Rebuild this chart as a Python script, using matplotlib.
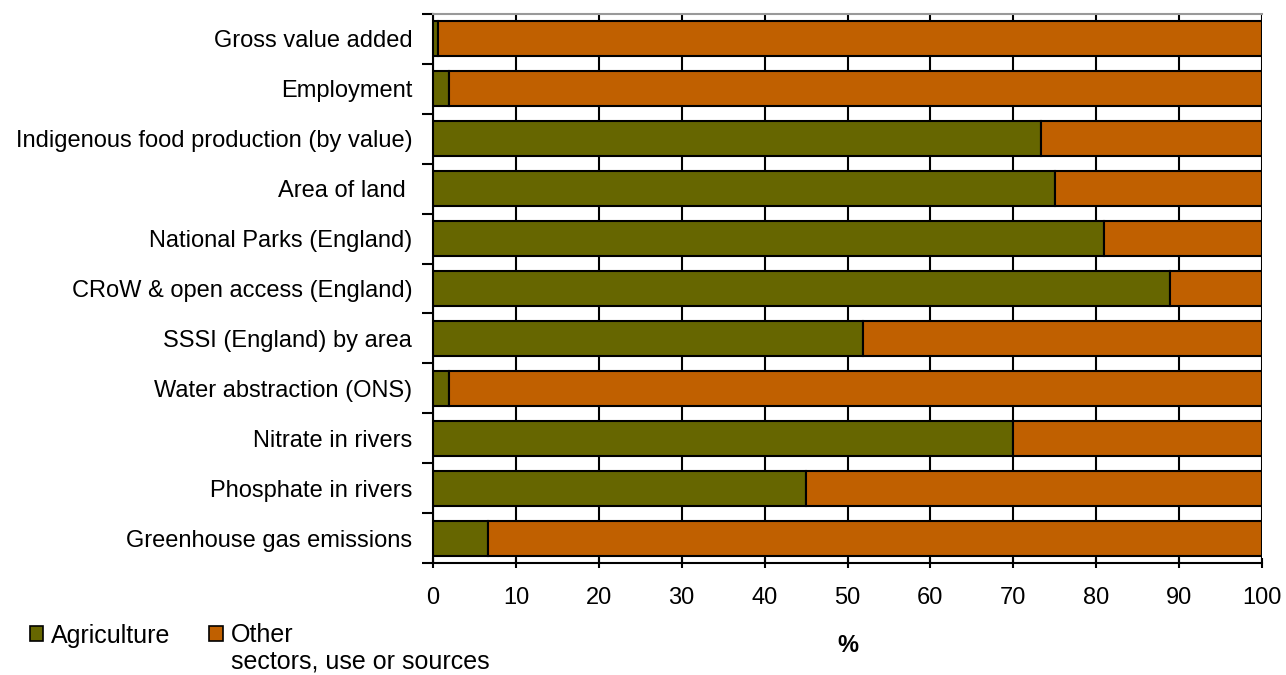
import matplotlib
matplotlib.use("Agg")
import matplotlib.pyplot as plt
from matplotlib.patches import Patch
import numpy as np

plt.rcParams['font.family'] = ['Liberation Sans', 'DejaVu Sans']

categories = [
    "Gross value added",
    "Employment",
    "Indigenous food production (by value)",
    "Area of land ",
    "National Parks (England)",
    "CRoW & open access (England)",
    "SSSI (England) by area",
    "Water abstraction (ONS)",
    "Nitrate in rivers",
    "Phosphate in rivers",
    "Greenhouse gas emissions",
]
agriculture = [0.6, 1.9, 73.3, 75.0, 80.9, 88.9, 51.9, 1.9, 70.0, 45.0, 6.6]
other = [100 - v for v in agriculture]
series_names = ["Agriculture", "Other"]
other_extra = "sectors, use or sources"
xticks = list(range(0, 101, 10))

green = "#666600"
orange = "#C06000"
fs = 17

fig = plt.figure(figsize=(12.86, 6.75), dpi=100)
ax = fig.add_axes([433/1286, 1 - 563/675, 829/1286, 549/675])

y = np.arange(len(categories))
ax.barh(y, agriculture, height=0.7, color=green, edgecolor="black", linewidth=1.5, zorder=3)
ax.barh(y, other, left=agriculture, height=0.7, color=orange, edgecolor="black", linewidth=1.5, zorder=3)

ax.set_xlim(0, 100)
ax.set_ylim(len(categories) - 0.5, -0.5)
ax.set_xticks(xticks)
ax.set_xticklabels([str(t) for t in xticks], fontsize=fs)
ax.set_yticks(y)
ax.set_yticklabels(categories, fontsize=fs)
ax.tick_params(axis='y', which='major', length=0, pad=15)
ax.set_yticks(np.arange(-0.5, len(categories), 1.0), minor=True)
ax.tick_params(axis='y', which='minor', length=8, width=1.5, direction='out')
ax.tick_params(axis='x', which='major', length=7, width=1.5, direction='inout', pad=14)
ax.xaxis.grid(True, color="black", linewidth=1.5, zorder=0)
ax.set_axisbelow(True)
for s in ['left', 'bottom']:
    ax.spines[s].set_linewidth(1.5)
    ax.spines[s].set_color('black')
ax.spines['top'].set_color('#999999')
ax.spines['top'].set_linewidth(1.5)
ax.spines['right'].set_visible(False)

ax.set_xlabel("%", fontsize=fs, fontweight='bold', labelpad=18)

handles = [Patch(facecolor=green, edgecolor='black', linewidth=1.2),
           Patch(facecolor=orange, edgecolor='black', linewidth=1.2)]
fig.legend(handles, series_names, loc='upper left', bbox_to_anchor=(12/1286, 1 - 606/675),
           ncol=2, frameon=False, fontsize=fs + 1, handlelength=0.55, handleheight=0.55,
           handletextpad=0.32, columnspacing=1.55, borderpad=0.2)
fig.text(231/1286, 1 - 662/675, other_extra, fontsize=fs + 1, va='center', ha='left')

fig.savefig("out.png", dpi=100)
